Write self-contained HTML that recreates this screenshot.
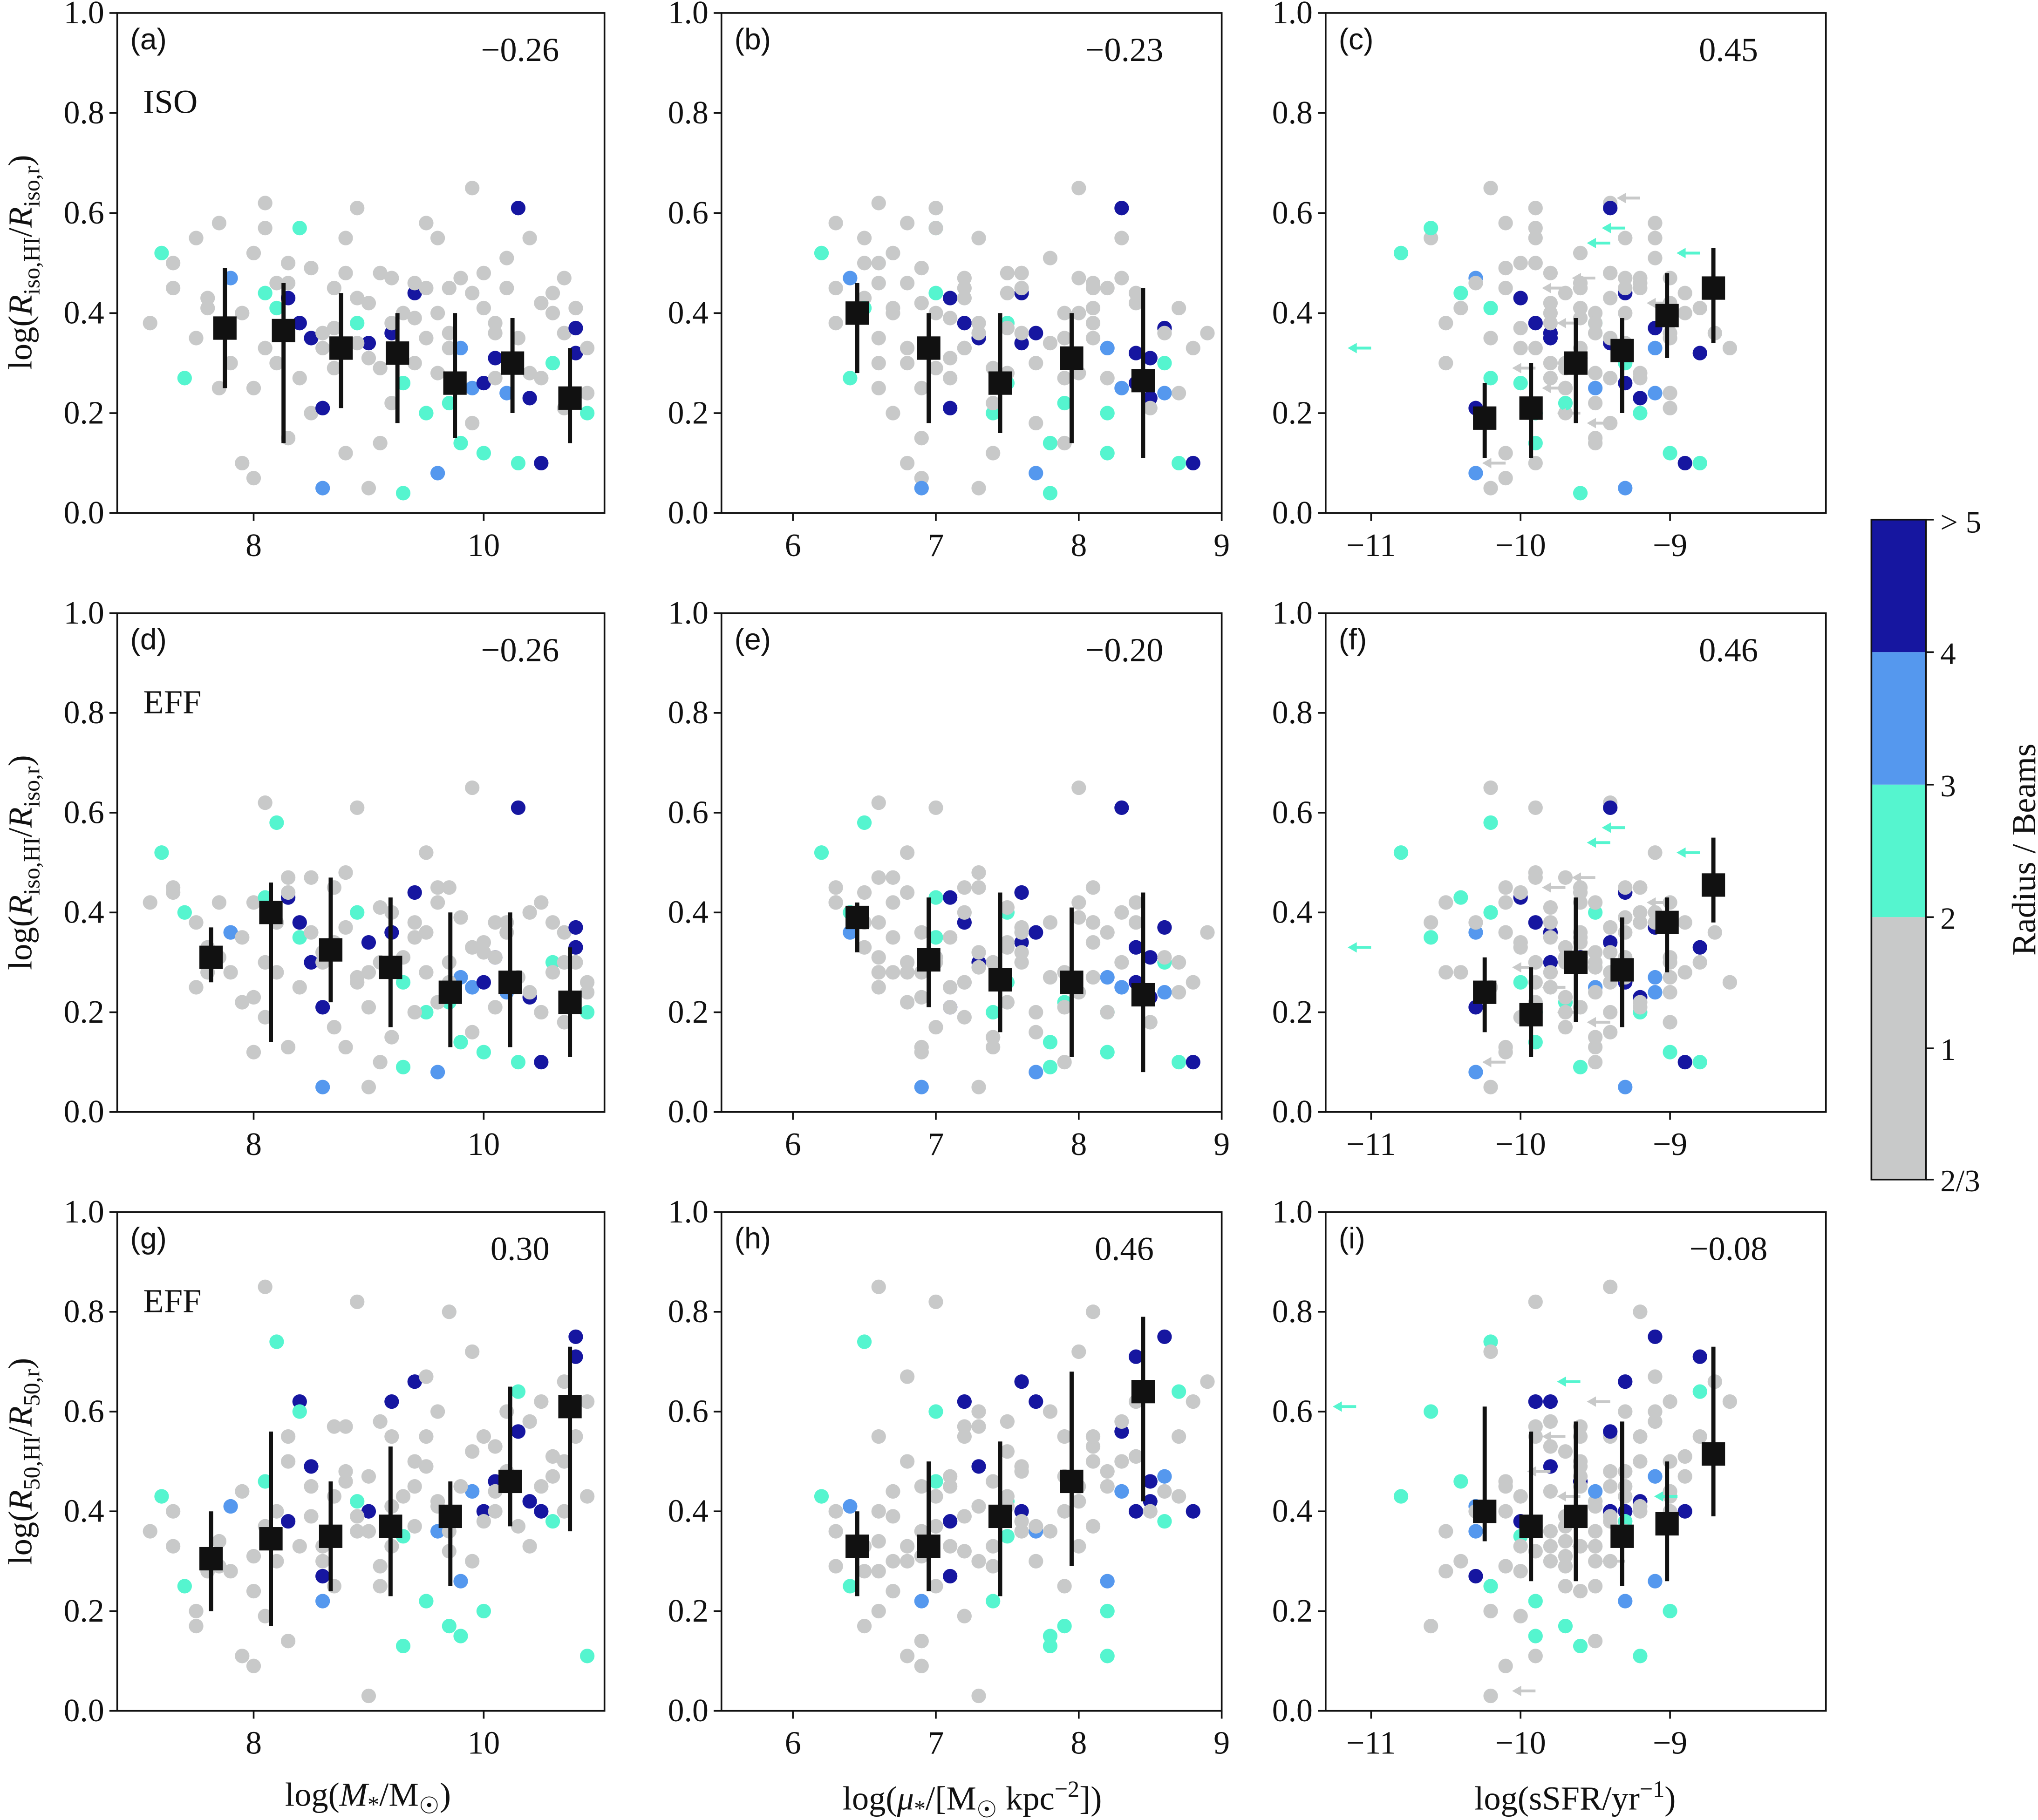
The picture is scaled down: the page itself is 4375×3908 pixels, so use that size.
<!DOCTYPE html>
<html><head><meta charset="utf-8">
<style>
html,body{margin:0;padding:0;background:#fff;}
svg{display:block;}
text{font-family:"Liberation Serif","DejaVu Serif",serif;fill:#111;}
.sans{font-family:"Liberation Sans","DejaVu Sans",sans-serif;}
</style></head>
<body>
<svg id="fig" xmlns="http://www.w3.org/2000/svg" width="4375" height="3908" viewBox="0 0 1568 1401">
<g id="defs-layer"></g>
</svg>
<script>
// galaxies: [logMstar, logMu, logSSFR, yIso, yEff, y50, beamClass]
const galaxies = [
[7.1,6.3,-10.5,0.38,0.42,0.36,0],[7.2,6.2,-10.8,0.52,0.52,0.43,1],[7.4,6.4,-10.2,0.27,0.40,0.25,1],
[7.5,6.5,-10.6,0.55,0.38,0.17,0],[7.6,6.5,-10.0,0.43,0.33,0.28,0],[7.7,6.6,-9.7,0.25,0.31,0.34,0],
[7.8,6.4,-10.3,0.47,0.36,0.41,2],[7.9,6.8,-9.9,0.10,0.22,0.11,0],[8.0,6.9,-10.1,0.07,0.12,0.09,0],
[8.0,6.7,-9.6,0.52,0.42,0.24,0],[8.1,6.6,-9.4,0.62,0.62,0.85,0],[8.1,7.0,-10.4,0.44,0.43,0.46,1],
[8.2,6.8,-9.8,0.30,0.28,0.30,0],[8.2,6.5,-10.2,0.41,0.58,0.74,1],[8.3,7.1,-10.0,0.43,0.43,0.38,3],
[8.3,6.9,-9.5,0.15,0.13,0.14,0],[8.4,7.2,-9.9,0.38,0.38,0.62,3],[8.4,7.0,-10.6,0.57,0.35,0.60,1],
[8.5,6.7,-9.7,0.20,0.47,0.39,0],[8.5,7.3,-9.8,0.35,0.30,0.49,3],[8.6,7.1,-10.3,0.21,0.21,0.27,3],
[8.6,6.9,-9.3,0.05,0.05,0.22,2],[8.7,7.2,-9.6,0.45,0.45,0.57,0],[8.8,7.4,-10.1,0.12,0.13,0.46,0],
[8.9,7.5,-9.5,0.38,0.40,0.42,1],[8.9,7.0,-9.9,0.61,0.61,0.82,0],[9.0,7.3,-10.2,0.05,0.05,0.03,0],
[9.0,7.6,-9.4,0.34,0.34,0.40,3],[9.1,7.4,-9.7,0.29,0.30,0.29,0],[9.2,7.7,-9.8,0.36,0.36,0.62,3],
[9.2,7.2,-9.2,0.47,0.40,0.55,0],[9.3,7.5,-10.0,0.26,0.26,0.35,1],[9.3,7.8,-9.6,0.04,0.09,0.13,1],
[9.4,7.6,-9.3,0.44,0.44,0.66,3],[9.5,7.9,-9.4,0.35,0.28,0.55,0],[9.5,7.4,-9.9,0.20,0.20,0.22,1],
[9.6,8.0,-9.5,0.40,0.42,0.42,0],[9.6,7.7,-10.3,0.08,0.08,0.36,2],[9.7,8.1,-9.2,0.45,0.45,0.80,0],
[9.7,7.9,-9.7,0.22,0.22,0.17,1],[9.8,8.2,-9.1,0.33,0.27,0.26,2],[9.8,7.8,-9.9,0.14,0.14,0.15,1],
[9.9,8.3,-9.5,0.25,0.25,0.44,2],[9.9,8.0,-10.2,0.65,0.65,0.72,0],[10.0,8.4,-9.3,0.26,0.26,0.40,3],
[10.0,8.2,-9.0,0.12,0.12,0.20,1],[10.1,8.5,-9.6,0.31,0.31,0.46,3],[10.1,8.1,-9.8,0.38,0.38,0.53,0],
[10.2,8.6,-9.1,0.24,0.24,0.47,2],[10.3,8.3,-9.4,0.61,0.61,0.56,3],[10.3,8.7,-8.8,0.10,0.10,0.64,1],
[10.4,8.5,-9.2,0.23,0.23,0.42,3],[10.5,8.4,-9.0,0.42,0.42,0.62,0],[10.5,8.8,-8.9,0.10,0.10,0.40,3],
[10.6,8.6,-9.3,0.30,0.30,0.38,1],[10.7,8.9,-8.7,0.36,0.36,0.66,0],[10.8,8.6,-9.1,0.37,0.37,0.75,3],
[10.8,8.4,-8.8,0.32,0.33,0.71,3],[10.9,8.7,-9.0,0.24,0.24,0.43,0],[10.9,8.2,-9.2,0.20,0.20,0.11,1],
[7.3,6.3,-10.1,0.45,0.45,0.40,0],[7.6,6.7,-10.4,0.41,0.28,0.30,0],[8.3,6.6,-9.9,0.50,0.47,0.55,0],
[8.6,6.8,-9.6,0.33,0.30,0.33,0],[8.8,7.6,-9.4,0.48,0.37,0.48,0],[9.0,6.9,-9.8,0.42,0.28,0.36,0],
[9.4,7.1,-9.6,0.39,0.35,0.45,0],[9.6,7.3,-9.3,0.55,0.45,0.60,0],[9.9,7.5,-9.7,0.44,0.33,0.52,0],
[10.2,7.8,-9.1,0.51,0.38,0.60,0],[10.4,8.0,-9.5,0.28,0.24,0.33,0],[10.7,8.3,-9.0,0.47,0.30,0.50,0],
[8.1,7.2,-10.0,0.33,0.19,0.19,0],[9.1,7.9,-9.5,0.14,0.10,0.25,0],[10.0,7.6,-9.4,0.48,0.32,0.38,0],
[9.5,6.8,-9.1,0.58,0.52,0.67,0],[8.7,7.5,-10.0,0.37,0.34,0.43,0],[10.6,7.9,-8.9,0.40,0.28,0.47,0],
[7.3,6.5,-10.0,0.50,0.44,0.33,0],[7.5,6.6,-10.2,0.35,0.25,0.20,0],[7.7,6.3,-10.1,0.58,0.42,0.29,0],
[7.9,6.7,-9.8,0.40,0.35,0.44,0],[8.0,6.9,-9.7,0.25,0.23,0.31,0],[8.1,7.0,-9.9,0.57,0.30,0.37,0],
[8.3,6.8,-9.6,0.46,0.44,0.50,0],[8.4,7.1,-9.8,0.27,0.25,0.33,0],[8.5,6.9,-10.1,0.49,0.36,0.45,0],
[8.6,7.3,-9.5,0.36,0.32,0.30,0],[8.7,7.0,-9.7,0.29,0.17,0.25,0],[8.8,7.3,-9.9,0.55,0.48,0.57,0],
[8.9,7.2,-9.4,0.43,0.26,0.39,0],[9.0,7.1,-9.6,0.31,0.21,0.47,0],[9.1,7.5,-9.8,0.48,0.41,0.58,0],
[9.2,7.4,-9.5,0.22,0.15,0.33,0],[9.3,7.0,-9.3,0.40,0.31,0.43,0],[9.4,7.7,-9.7,0.30,0.20,0.37,0],
[9.5,7.6,-9.6,0.45,0.36,0.49,0],[9.6,7.5,-9.2,0.28,0.22,0.41,0],[9.7,7.6,-9.5,0.36,0.30,0.36,0],
[9.8,8.0,-9.3,0.47,0.39,0.45,0],[9.9,7.7,-9.4,0.18,0.16,0.30,0],[10.0,8.1,-9.6,0.41,0.34,0.55,0],
[10.1,7.9,-9.2,0.27,0.21,0.40,0],[10.2,8.2,-9.3,0.45,0.36,0.48,0],[10.3,8.1,-9.0,0.35,0.27,0.37,0],
[10.4,8.3,-9.1,0.55,0.40,0.58,0],[10.5,8.2,-9.4,0.27,0.20,0.45,0],[10.6,8.4,-8.9,0.44,0.38,0.51,0],
[10.7,8.5,-9.0,0.21,0.18,0.40,0],[10.8,8.7,-8.8,0.41,0.30,0.55,0],[10.9,8.8,-8.6,0.33,0.26,0.62,0],
[9.2,7.3,-9.5,0.38,0.29,0.41,0],[8.9,7.8,-9.3,0.34,0.27,0.36,0],[9.7,7.2,-9.9,0.33,0.26,0.32,0],
[8.2,6.6,-10.3,0.46,0.38,0.40,0],[10.1,8.6,-9.0,0.36,0.31,0.44,0],[9.4,8.1,-9.2,0.46,0.38,0.50,0],
[7.8,6.6,-10.5,0.30,0.28,0.28,0]
];
// upper limits in sSFR: [logSSFR, y, beamClass]
const limitsIso = [[-11.0,0.33,1],[-9.9,0.29,0],[-9.7,0.25,0],[-9.4,0.18,0],[-8.8,0.52,1],[-9.3,0.57,1],[-9.5,0.47,0],[-9.7,0.45,0],[-9.0,0.42,0],[-9.6,0.20,0],[-10.1,0.10,0],[-9.2,0.63,0],[-9.4,0.54,1],[-9.6,0.38,0]];
const limitsEff = [[-11.0,0.33,1],[-9.9,0.29,0],[-9.7,0.25,0],[-9.4,0.18,0],[-8.8,0.52,1],[-9.3,0.57,1],[-9.5,0.47,0],[-9.7,0.45,0],[-9.0,0.42,0],[-9.6,0.20,0],[-10.1,0.10,0],[-9.4,0.54,1]];
const limits50 = [[-11.1,0.61,1],[-9.6,0.66,1],[-9.4,0.62,0],[-9.7,0.55,0],[-8.95,0.43,1],[-9.8,0.48,0],[-9.5,0.33,0],[-9.9,0.04,0],[-9.3,0.30,0],[-9.6,0.43,0]];
// binned medians: x, y, low, high
const binXMass1 = [7.75,8.26,8.76,9.25,9.75,10.25,10.75];
const binXMass = [7.63,8.15,8.67,9.19,9.71,10.23,10.75];
const binXMu = [6.45,6.95,7.45,7.95,8.45];
const binXSsfr = [-10.24,-9.93,-9.63,-9.32,-9.02,-8.71];
const medA = [0.37,0.365,0.33,0.32,0.26,0.30,0.23], loA=[0.25,0.14,0.21,0.18,0.15,0.20,0.14], hiA=[0.49,0.46,0.44,0.40,0.40,0.39,0.33];
const medB = [0.40,0.33,0.26,0.31,0.265], loB=[0.28,0.18,0.16,0.14,0.11], hiB=[0.46,0.40,0.40,0.40,0.45];
const medC = [0.19,0.21,0.30,0.325,0.395,0.45], loC=[0.11,0.11,0.18,0.20,0.31,0.34], hiC=[0.26,0.30,0.39,0.39,0.48,0.53];
const medD = [0.31,0.40,0.325,0.29,0.24,0.26,0.22], loD=[0.26,0.14,0.22,0.17,0.13,0.13,0.11], hiD=[0.37,0.46,0.47,0.43,0.40,0.40,0.33];
const medE = [0.39,0.305,0.265,0.26,0.235], loE=[0.32,0.21,0.16,0.11,0.08], hiE=[0.42,0.43,0.44,0.41,0.44];
const medF = [0.24,0.195,0.30,0.285,0.38,0.455], loF=[0.16,0.11,0.18,0.17,0.28,0.38], hiF=[0.31,0.29,0.43,0.39,0.43,0.55];
const medG = [0.305,0.345,0.35,0.37,0.39,0.46,0.61], loG=[0.20,0.17,0.24,0.23,0.25,0.37,0.36], hiG=[0.40,0.56,0.46,0.53,0.46,0.65,0.73];
const medH = [0.33,0.33,0.39,0.46,0.64], loH=[0.23,0.24,0.23,0.29,0.42], hiH=[0.40,0.50,0.54,0.68,0.79];
const medI = [0.40,0.37,0.39,0.35,0.375,0.515], loI=[0.34,0.26,0.26,0.25,0.26,0.39], hiI=[0.61,0.56,0.58,0.58,0.50,0.73];
const corrLabels = ["\u22120.26","\u22120.23","0.45","\u22120.26","\u22120.20","0.46","0.30","0.46","\u22120.08"];
const panelLetters = ["(a)","(b)","(c)","(d)","(e)","(f)","(g)","(h)","(i)"];
const yTicks = [0,0.2,0.4,0.6,0.8,1.0];
const xTicksMass=[8,10], xTicksMu=[6,7,8,9], xTicksSsfr=[-11,-10,-9];
const beamColors=["#c8c9c9","#55f5cf","#5598ee","#1616a0"];

const NS="http://www.w3.org/2000/svg";
const svg=document.getElementById('fig');
function el(tag,attrs,parent){const e=document.createElementNS(NS,tag);for(const k in attrs)e.setAttribute(k,attrs[k]);(parent||svg).appendChild(e);return e;}
const cols=[{x0:90,x1:465,d0:6.814,d1:11.05,ticks:xTicksMass,gi:0,bins:binXMass},
            {x0:555,x1:940,d0:5.5,d1:9.0,ticks:xTicksMu,gi:1,bins:binXMu},
            {x0:1020,x1:1405,d0:-11.304,d1:-7.957,ticks:xTicksSsfr,gi:2,bins:binXSsfr}];
const rows=[{y0:10,y1:395,gi:3,lim:limitsIso},{y0:472,y1:856,gi:4,lim:limitsEff},{y0:933,y1:1317,gi:5,lim:limits50}];
const meds=[[medA,loA,hiA],[medB,loB,hiB],[medC,loC,hiC],[medD,loD,hiD],[medE,loE,hiE],[medF,loF,hiF],[medG,loG,hiG],[medH,loH,hiH],[medI,loI,hiI]];
const fmt=v=>(v<0?"\u2212":"")+Math.abs(v);
rows.forEach((r,ri)=>cols.forEach((c,ci)=>{
  const idx=ri*3+ci;
  const sx=v=>c.x0+(v-c.d0)/(c.d1-c.d0)*(c.x1-c.x0);
  const sy=v=>r.y1-v*(r.y1-r.y0);
  const g=el('g',{});
  
  
  galaxies.forEach(gal=>{
    const xv=gal[c.gi], yv=gal[r.gi];
    if(xv<c.d0||xv>c.d1||yv<0||yv>1)return;
    const p=el('circle',{cx:sx(xv),cy:sy(yv),r:5.6,fill:beamColors[gal[6]]},g);
    
    
  });
  if(ci===2){r.lim.forEach(l=>{
    const x=sx(l[0]),y=sy(l[1]),col=beamColors[l[2]];
    const a=el('g',{},g);
    
    
    el('line',{x1:x,y1:y,x2:x-16,y2:y,stroke:col,'stroke-width':2.2},a);
    el('path',{d:`M${x-18} ${y} L${x-11} ${y-4} L${x-11} ${y+4}Z`,fill:col},a);
  });}
  const m=meds[idx], bx=(ri===0&&ci===0)?binXMass1:c.bins;
  m[0].forEach((v,i)=>{
    const x=sx(bx[i]);
    const eb=el('line',{x1:x,x2:x,y1:sy(m[1][i]),y2:sy(m[2][i]),stroke:'#111','stroke-width':3.2},g);
    
    
    const sq=el('rect',{x:x-9,y:sy(v)-9,width:18,height:18,fill:'#111'},g);
    
    
  });
  const fr=el('rect',{x:c.x0,y:r.y0,width:c.x1-c.x0,height:r.y1-r.y0,fill:'none',stroke:'#111','stroke-width':1.3},g);
  
  
  yTicks.forEach(t=>{
    const y=sy(t);
    el('line',{x1:c.x0-6,x2:c.x0,y1:y,y2:y,stroke:'#111','stroke-width':1.3},g);
    const tx=el('text',{x:c.x0-10,y:y+8,'font-size':25,'text-anchor':'end'},g);
    tx.textContent=t.toFixed(1);
    
    
  });
  c.ticks.forEach(t=>{
    const x=sx(t);
    el('line',{x1:x,x2:x,y1:r.y1,y2:r.y1+6,stroke:'#111','stroke-width':1.3},g);
    const tx=el('text',{x:x,y:r.y1+33,'font-size':25,'text-anchor':'middle'},g);
    tx.textContent=fmt(t);
    
    
  });
  const pl=el('text',{x:c.x0+10,y:r.y0+28,'font-size':23,class:'sans'},g);
  pl.textContent=panelLetters[idx];
  
  
  const cl=el('text',{x:c.x0+310,y:r.y0+37,'font-size':26,'text-anchor':'middle'},g);
  cl.textContent=corrLabels[idx];
  
  
  if(ci===0){
    const mt=el('text',{x:c.x0+20,y:r.y0+77,'font-size':26},g);
    mt.textContent=ri===0?"ISO":"EFF";
    
    
  }
}));
</script>
<svg style="position:absolute;left:0;top:0" width="4375" height="3908" viewBox="0 0 1568 1401" xmlns="http://www.w3.org/2000/svg">
 <g font-family="Liberation Serif, serif" font-size="26" fill="#111">
  <text transform="translate(24,202) rotate(-90)" text-anchor="middle">log(<tspan font-style="italic">R</tspan><tspan font-size="18" dy="6">iso,HI</tspan><tspan dy="-6">/</tspan><tspan font-style="italic">R</tspan><tspan font-size="18" dy="6">iso,r</tspan><tspan dy="-6">)</tspan></text>
  <text transform="translate(24,664) rotate(-90)" text-anchor="middle">log(<tspan font-style="italic">R</tspan><tspan font-size="18" dy="6">iso,HI</tspan><tspan dy="-6">/</tspan><tspan font-style="italic">R</tspan><tspan font-size="18" dy="6">iso,r</tspan><tspan dy="-6">)</tspan></text>
  <text transform="translate(24,1125) rotate(-90)" text-anchor="middle">log(<tspan font-style="italic">R</tspan><tspan font-size="18" dy="6">50,HI</tspan><tspan dy="-6">/</tspan><tspan font-style="italic">R</tspan><tspan font-size="18" dy="6">50,r</tspan><tspan dy="-6">)</tspan></text>
  <text x="283" y="1390" text-anchor="middle">log(<tspan font-style="italic">M</tspan><tspan font-size="18" dy="5">*</tspan><tspan dy="-5">/M</tspan><tspan font-size="18" dy="6">☉</tspan><tspan dy="-6">)</tspan></text>
  <text x="748" y="1393" text-anchor="middle">log(<tspan font-style="italic">μ</tspan><tspan font-size="18" dy="5">*</tspan><tspan dy="-5">/[M</tspan><tspan font-size="18" dy="6">☉</tspan><tspan dy="-6"> kpc</tspan><tspan font-size="18" dy="-10">−2</tspan><tspan dy="10">])</tspan></text>
  <text x="1212" y="1393" text-anchor="middle">log(sSFR/yr<tspan font-size="18" dy="-10">−1</tspan><tspan dy="10">)</tspan></text>
 </g>
 <g>
  <rect x="1440" y="400" width="42" height="102" fill="#1616a0"/>
  <rect x="1440" y="502" width="42" height="102" fill="#5598ee"/>
  <rect x="1440" y="604" width="42" height="102" fill="#55f5cf"/>
  <rect x="1440" y="706" width="42" height="202" fill="#c8c9c9"/>
  <rect x="1440" y="400" width="42" height="508" fill="none" stroke="#111" stroke-width="1.3"/>
  <g stroke="#111" stroke-width="1.3"><line x1="1482" x2="1488" y1="400" y2="400"/><line x1="1482" x2="1488" y1="502" y2="502"/><line x1="1482" x2="1488" y1="604" y2="604"/><line x1="1482" x2="1488" y1="706" y2="706"/><line x1="1482" x2="1488" y1="807" y2="807"/><line x1="1482" x2="1488" y1="908" y2="908"/></g>
  <g font-family="Liberation Serif, serif" font-size="24" fill="#111">
   <text x="1493" y="410">&gt; 5</text><text x="1493" y="511">4</text><text x="1493" y="613">3</text><text x="1493" y="715">2</text><text x="1493" y="816">1</text><text x="1493" y="917">2/3</text>
   <text transform="translate(1566,654) rotate(-90)" text-anchor="middle" font-size="26">Radius / Beams</text>
  </g>
 </g>
</svg>
</body></html>
